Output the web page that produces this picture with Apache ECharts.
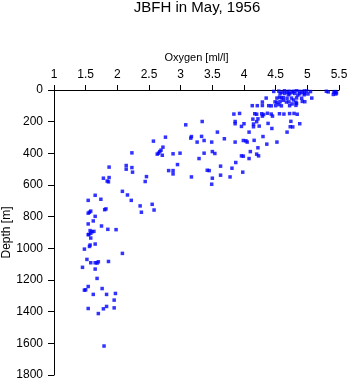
<!DOCTYPE html>
<html>
<head>
<meta charset="utf-8">
<script src="https://cdn.jsdelivr.net/npm/echarts@6/dist/echarts.min.js"></script>
<style>html,body{margin:0;padding:0;background:#fff}#c{width:350px;height:384px}</style>
</head>
<body>
<div id="c"></div>
<script>
const titleText = "JBFH in May, 1956";
const xName = "Oxygen [ml/l]";
const yName = "Depth [m]";
const xTicks = [1, 1.5, 2, 2.5, 3, 3.5, 4, 4.5, 5, 5.5];
const yTicks = [0, 200, 400, 600, 800, 1000, 1200, 1400, 1600, 1800];

const oxygen = [
  4.47,4.64,4.71,4.83,4.88,4.99,5.05,5.30,5.44,
  4.55,4.78,4.95,5.33,5.42,5.46,
  4.57,4.64,4.72,4.80,4.88,4.96,5.01,5.41,5.45,
  4.60,4.68,4.76,4.92,4.70,4.85,4.95,
  4.35,4.52,4.59,4.68,4.75,4.83,4.91,5.07,4.56,4.62,
  4.29,4.49,4.52,4.57,4.67,4.71,4.82,4.92,4.96,4.62,4.78,
  4.76,4.83,
  4.13,4.21,4.29,4.39,4.43,4.50,4.59,4.72,4.82,4.55,
  3.84,3.93,4.17,4.20,4.28,4.31,4.37,4.43,4.56,4.63,4.72,4.79,4.84,4.29,4.45,
  4.14,4.22,
  3.34,3.86,4.20,4.74,
  3.86,4.00,4.15,4.38,4.88,
  3.96,4.15,4.24,4.73,4.77,
  4.44,
  3.58,4.08,4.68,
  3.17,3.33,4.30,
  3.69,
  3.37,3.99,4.03,4.16,
  3.26,3.49,3.86,4.05,4.52,
  4.36,4.22,
  3.50,4.10,3.37,3.54,4.20,
  3.96,3.99,4.23,
  3.29,4.08,3.87,3.63,3.81,
  3.42,3.45,3.98,3.63,3.17,3.78,3.50,3.49,
  3.08,3.16,2.57,2.76,2.72,2.63,2.65,2.67,2.69,2.71,2.88,2.99,2.23,2.95,
  2.14,1.87,2.14,2.23,2.24,2.81,2.88,2.88,
  1.87,1.78,1.84,1.86,2.44,2.46,2.08,2.16,1.65,1.74,1.54,2.22,2.36,2.55,
  1.82,1.80,2.38,2.58,1.56,1.54,1.58,1.65,1.62,1.54,1.75,1.85,1.98,
  1.57,1.60,1.63,1.58,1.55,1.58,
  1.54,1.65,1.57,1.56,1.48,2.08,1.52,1.70,1.58,1.65,1.68,1.86,1.45,1.65,
  1.68,1.54,1.76,1.48,1.50,1.97,1.62,1.83,1.95,1.83,1.95,1.54,1.78,1.70,1.79
];
const depth = [
  9,5,8,5,9,6,10,8,10,
  7,8,6,12,14,18,
  23,22,24,22,24,22,25,28,25,
  15,14,16,15,30,32,30,
  51,51,50,52,51,50,52,51,45,48,
  76,75,78,74,76,75,77,72,74,65,63,
  88,85,
  99,99,98,99,100,99,100,99,97,92,
  152,148,150,153,150,155,147,152,150,152,149,148,153,165,165,
  184,182,
  199,199,200,198,
  213,213,215,211,213,
  230,232,228,232,233,
  243,
  266,266,266,
  294,293,294,
  308,
  319,319,321,318,
  329,329,329,329,329,
  342,365,
  389,389,399,401,405,
  416,418,416,
  433,433,458,481,494,
  507,509,519,538,549,549,557,595,
  220,304,323,298,361,405,399,389,380,412,403,399,397,471,
  477,487,500,490,519,509,509,530,
  553,557,575,580,578,547,640,663,665,690,697,697,732,722,
  751,756,772,758,772,778,765,798,827,846,859,880,882,
  888,895,893,905,912,935,
  914,973,979,988,1005,1032,1070,1085,1091,1091,1093,1083,1120,1131,
  1190,1241,1254,1264,1262,1285,1291,1291,1327,1367,1376,1380,1382,1412,1617
];

const points = oxygen.map((o, i) => [o, depth[i]]);
const chart = echarts.init(document.getElementById('c'), null, {renderer: 'canvas'});
const font = 'Liberation Sans, Arial, Helvetica, sans-serif';
chart.setOption({
  animation: false,
  backgroundColor: '#fff',
  title: {
    text: titleText, left: 197, top: 0, padding: 0, textAlign: 'center',
    textStyle: {fontFamily: font, fontSize: 15, fontWeight: 'normal', color: '#000'}
  },
  grid: {left: 54, top: 90, width: 285, height: 285, containLabel: false, outerBoundsMode: 'none'},
  xAxis: {
    type: 'value', position: 'top', min: xTicks[0], max: xTicks[xTicks.length-1], interval: 0.5,
    name: xName, nameLocation: 'middle', nameGap: 27, nameMoveOverlap: false,
    nameTextStyle: {fontFamily: font, fontSize: 11, color: '#000'},
    axisLine: {show: true, onZero: false, lineStyle: {color: '#000', width: 1}},
    axisTick: {show: true, length: 5, lineStyle: {color: '#000'}},
    axisLabel: {fontFamily: font, fontSize: 12, color: '#000', margin: 9,
      formatter: v => String(v)},
    splitLine: {show: false}
  },
  yAxis: {
    type: 'value', inverse: true, min: yTicks[0], max: yTicks[yTicks.length-1], interval: 200,
    name: yName, nameLocation: 'middle', nameGap: 41, nameRotate: 90, nameMoveOverlap: false,
    nameTextStyle: {fontFamily: font, fontSize: 12, color: '#000'},
    axisLine: {show: true, onZero: false, lineStyle: {color: '#000', width: 1}},
    axisTick: {show: true, length: 6, lineStyle: {color: '#000'}},
    axisLabel: {fontFamily: font, fontSize: 12, color: '#000', margin: 11,
      formatter: v => String(v)},
    splitLine: {show: false}
  },
  series: [{
    type: 'scatter', data: points, symbol: 'rect', symbolSize: 3.5,
    itemStyle: {color: '#0000ff'}, silent: true
  }]
});
</script>
</body>
</html>
